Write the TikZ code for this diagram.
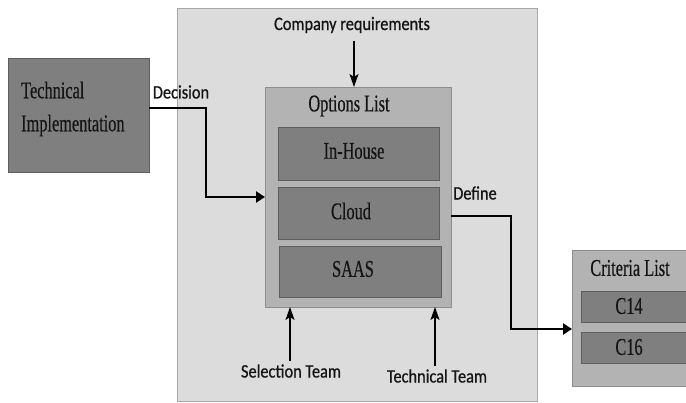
\documentclass[tikz,border=0pt]{standalone}
\usepackage{fontspec}
\setmainfont{Liberation Serif}
\newfontfamily\serifc[FakeStretch=0.68,FakeBold=0.4]{Liberation Serif}
\newfontfamily\sansc[FakeStretch=0.86,FakeBold=0.7]{Carlito}
\usetikzlibrary{arrows.meta,calc}
\definecolor{panelfill}{HTML}{DCDCDC}
\definecolor{paneldraw}{HTML}{A8A8A8}
\definecolor{darkfill}{HTML}{7F7F7F}
\definecolor{darkdraw}{HTML}{5E5E5E}
\definecolor{midfill}{HTML}{B3B3B3}
\definecolor{middraw}{HTML}{8E8E8E}
\definecolor{txt}{HTML}{141414}
\tikzset{
  box/.style={rectangle, anchor=north west, inner sep=0pt, outer sep=0pt},
  panelbox/.style={box, fill=panelfill, draw=paneldraw, line width=0.8pt},
  darkbox/.style={box, fill=darkfill, draw=darkdraw, line width=0.8pt},
  midbox/.style={box, fill=midfill, draw=middraw, line width=0.8pt},
  stxt/.style={font=\serifc\fontsize{24}{28}\selectfont, text=txt, inner sep=0pt},
  ltxt/.style={font=\sansc\fontsize{19}{22}\selectfont, text=txt, inner sep=0pt},
  conn/.style={line width=2.8pt, -{Triangle[length=9pt,width=11pt]}},
  varr/.style={line width=1.5pt, -{Stealth[length=13pt,width=9pt,inset=3pt]}},
}
\begin{document}
\begin{tikzpicture}[x=1pt,y=-1pt]
\useasboundingbox (0,0) rectangle (686,403);
\clip (0,0) rectangle (686,403);
% main panel
\node[panelbox, minimum width=360pt, minimum height=393pt] (panel) at (177,8) {};
% technical implementation
\node[darkbox, minimum width=141pt, minimum height=114pt] (tech) at (8,58) {};
\node[stxt, anchor=west, align=left, font=\serifc\fontsize{24}{33}\selectfont] (techtxt) at (21,109) {Technical\\Implementation};
% options list
\node[midbox, minimum width=186pt, minimum height=220pt] (opts) at (265,87) {};
\node[stxt] (optstxt) at (349,106) {Options List};
\node[darkbox, minimum width=161pt, minimum height=53pt] (inhouse) at (278,127) {};
\node[stxt] (inhousetxt) at (354,151) {In-House};
\node[darkbox, minimum width=161pt, minimum height=52pt] (cloud) at (278,187) {};
\node[stxt] (cloudtxt) at (351,211) {Cloud};
\node[darkbox, minimum width=162pt, minimum height=51pt] (saas) at (279,246) {};
\node[stxt] (saastxt) at (353,269) {SAAS};
% criteria list
\node[midbox, minimum width=130pt, minimum height=136pt] (crit) at (572,250) {};
\node[stxt] (crittxt) at (630,268) {Criteria List};
\node[darkbox, minimum width=120pt, minimum height=31pt] (c14) at (581,291) {};
\node[stxt] (c14txt) at (629,306) {C14};
\node[darkbox, minimum width=120pt, minimum height=31pt] (c16) at (581,332) {};
\node[stxt] (c16txt) at (629,347) {C16};
% labels
\node[ltxt] (comp) at (352,25) {Company requirements};
\node[ltxt] (sel) at (291,371) {Selection Team};
\node[ltxt] (tt) at (437,376) {Technical Team};
\node[ltxt] (dec) at (181,92) {Decision};
\node[ltxt] (def) at (475,193) {Define};
% connector end points
\coordinate (decA) at ($(tech.north east)+(0,50)$);
\coordinate (defA) at ($(opts.north east)+(0,129)$);
\coordinate (defB) at ($(crit.north west)+(0,79)$);
\coordinate (compA) at ($(comp.south)+(2,8)$);
\coordinate (selA) at ($(sel.north)+(-1,-3)$);
\coordinate (ttA) at ($(tt.north)+(-2,-3)$);
% connectors
\draw[conn] (decA) -- ++(57,0) |- (opts.west);
\draw[conn] (defA) -- ++(60,0) |- (defB);
\draw[varr] (compA) -- (compA |- opts.north);
\draw[varr] (selA) -- (selA |- opts.south);
\draw[varr] (ttA) -- (ttA |- opts.south);
\end{tikzpicture}
\end{document}
